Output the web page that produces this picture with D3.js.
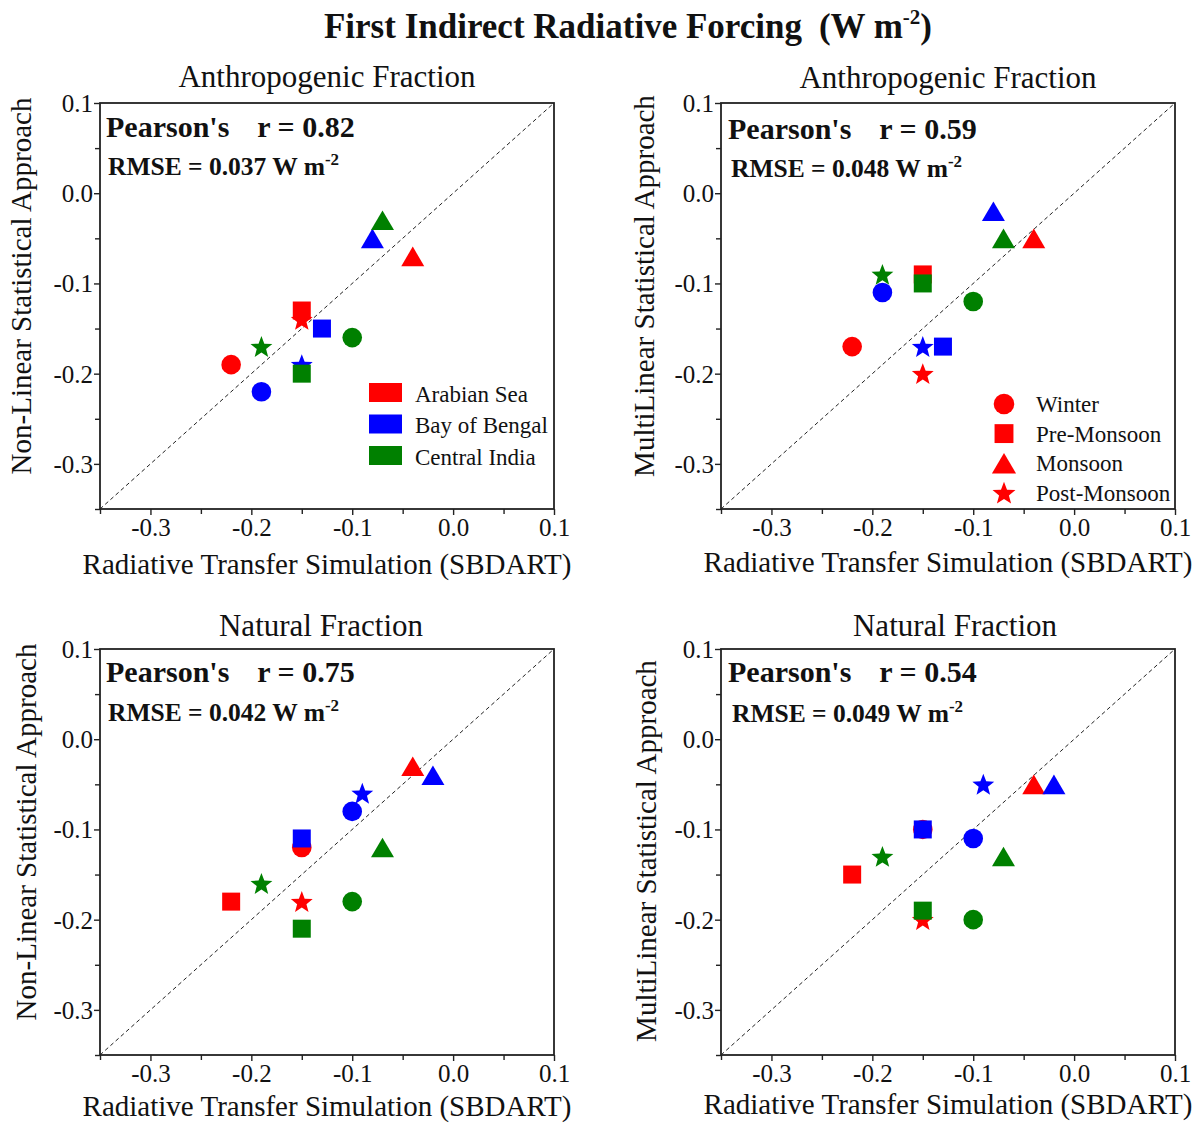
<!DOCTYPE html>
<html>
<head>
<meta charset="utf-8">
<script src="https://cdn.jsdelivr.net/npm/d3@7"></script>
<style>
  html, body { margin: 0; padding: 0; background: #fff; }
  svg { display: block; }
  text { font-family: "Liberation Serif", "Times New Roman", serif; fill: #111; }
</style>
</head>
<body>
<svg id="chart" width="1199" height="1124"></svg>
<script>
// Regions (colour) and seasons (marker shape)
const regions = ["Arabian Sea", "Bay of Bengal", "Central India"];
const regionColors = ["#ff0000", "#0000ff", "#008000"];
const seasons = ["Winter", "Pre-Monsoon", "Monsoon", "Post-Monsoon"];
const seasonShapes = ["circle", "square", "triangle", "star"];

// Axis ticks (W m-2)
const majorTicks = [-0.3, -0.2, -0.1, 0.0, 0.1];
const minorTicks = [-0.35, -0.25, -0.15, -0.05, 0.05];
const tickLabels = ["-0.3", "-0.2", "-0.1", "0.0", "0.1"];

// Forcing values: rows = regions, columns = seasons
const anthroSbdart = [
  [-0.22, -0.15, -0.04, -0.15],
  [-0.19, -0.13, -0.08, -0.15],
  [-0.10, -0.15, -0.07, -0.19]
];
const anthroNonLinear = [
  [-0.19, -0.13, -0.07, -0.14],
  [-0.22, -0.15, -0.05, -0.19],
  [-0.16, -0.20, -0.03, -0.17]
];
const anthroMultiLinear = [
  [-0.17, -0.09, -0.05, -0.20],
  [-0.11, -0.17, -0.02, -0.17],
  [-0.12, -0.10, -0.05, -0.09]
];
const naturalSbdart = [
  [-0.15, -0.22, -0.04, -0.15],
  [-0.10, -0.15, -0.02, -0.09],
  [-0.10, -0.15, -0.07, -0.19]
];
const naturalNonLinear = [
  [-0.12, -0.18, -0.03, -0.18],
  [-0.08, -0.11, -0.04, -0.06],
  [-0.18, -0.21, -0.12, -0.16]
];
const naturalMultiLinear = [
  [-0.10, -0.15, -0.05, -0.20],
  [-0.11, -0.10, -0.05, -0.05],
  [-0.20, -0.19, -0.13, -0.13]
];

// Agreement statistics per panel
const pearsonR = ["0.82", "0.59", "0.75", "0.54"];
const rmseValues = ["0.037", "0.048", "0.042", "0.049"];

const panelTitles = ["Anthropogenic Fraction", "Anthropogenic Fraction", "Natural Fraction", "Natural Fraction"];
const yTitles = ["Non-Linear Statistical Approach", "MultiLinear Statistical Approach",
                 "Non-Linear Statistical Approach", "MultiLinear Statistical Approach"];
const xTitle = "Radiative Transfer Simulation (SBDART)";

const panels = [
  { x: anthroSbdart,  y: anthroNonLinear,   left: 100, top: 103, legend: "region",
    titleDx: 0,  titleY: 87,  yLabX: 31,  yLabY: 286, xLabY: 574, pX: 106, pY: 137, rX: 108, rY: 175 },
  { x: anthroSbdart,  y: anthroMultiLinear, left: 721, top: 103, legend: "season",
    titleDx: 0,  titleY: 88,  yLabX: 654, yLabY: 286, xLabY: 572, pX: 728, pY: 139, rX: 731, rY: 177 },
  { x: naturalSbdart, y: naturalNonLinear,  left: 100, top: 649, legend: null,
    titleDx: -6, titleY: 636, yLabX: 36,  yLabY: 832, xLabY: 1116, pX: 106, pY: 682, rX: 108, rY: 721 },
  { x: naturalSbdart, y: naturalMultiLinear,left: 721, top: 649, legend: null,
    titleDx: 7,  titleY: 636, yLabX: 656, yLabY: 851, xLabY: 1114, pX: 728, pY: 682, rX: 732, rY: 722 }
];

const W = 454, H = 406;
const svg = d3.select("#chart");
const axisColor = "#222";

// Marker path generators centred on (0,0)
function markerPath(shape, s) {
  const p = d3.path();
  if (shape === "circle") {
    const r = 9.8 * s;
    p.arc(0, 0, r, 0, 2 * Math.PI);
  } else if (shape === "square") {
    const h = 9 * s;
    p.rect(-h, -h, 2 * h, 2 * h);
  } else if (shape === "triangle") {
    const w = 11.5 * s, h = 9.8 * s;
    p.moveTo(0, -h); p.lineTo(w, h); p.lineTo(-w, h); p.closePath();
  } else {
    const ro = 11.5 * s, ri = 4.9 * s;
    for (let i = 0; i < 10; i++) {
      const a = -Math.PI / 2 + i * Math.PI / 5;
      const r = i % 2 === 0 ? ro : ri;
      const px = r * Math.cos(a), py = r * Math.sin(a) + 1 * s;
      if (i === 0) p.moveTo(px, py); else p.lineTo(px, py);
    }
    p.closePath();
  }
  return p.toString();
}

// Main title
const mainTitle = svg.append("text")
  .attr("x", 628).attr("y", 38)
  .attr("text-anchor", "middle")
  .style("font-size", "35px").style("font-weight", "bold");
mainTitle.append("tspan").text("First Indirect Radiative Forcing");
mainTitle.append("tspan").attr("dx", 17).text("(W m");
mainTitle.append("tspan").attr("dy", -14).style("font-size", "21px").text("-2");
mainTitle.append("tspan").attr("dy", 14).text(")");

panels.forEach((pn, i) => {
  const xs = d3.scaleLinear().domain([-0.35, 0.1]).range([pn.left, pn.left + W]);
  const ys = d3.scaleLinear().domain([-0.35, 0.1]).range([pn.top + H, pn.top]);
  const g = svg.append("g");

  // Frame
  g.append("rect")
    .attr("x", xs(-0.35)).attr("y", ys(0.1))
    .attr("width", xs(0.1) - xs(-0.35)).attr("height", ys(-0.35) - ys(0.1))
    .attr("fill", "none").attr("stroke", axisColor).attr("stroke-width", 1.8);

  // Axes
  const xAxis = g.append("g").attr("transform", `translate(0,${ys(-0.35)})`)
    .call(d3.axisBottom(xs).tickValues(majorTicks).tickSize(6).tickPadding(1)
      .tickFormat((d, k) => tickLabels[k]));
  const xMinor = g.append("g").attr("transform", `translate(0,${ys(-0.35)})`)
    .call(d3.axisBottom(xs).tickValues(minorTicks).tickSize(5).tickFormat(""));
  const yAxis = g.append("g").attr("transform", `translate(${xs(-0.35)},0)`)
    .call(d3.axisLeft(ys).tickValues(majorTicks).tickSize(6).tickPadding(1)
      .tickFormat((d, k) => tickLabels[k]));
  const yMinor = g.append("g").attr("transform", `translate(${xs(-0.35)},0)`)
    .call(d3.axisLeft(ys).tickValues(minorTicks).tickSize(5).tickFormat(""));
  [xAxis, xMinor, yAxis, yMinor].forEach(a => {
    a.select(".domain").remove();
    a.selectAll("line").attr("stroke", axisColor).attr("stroke-width", 1.4);
    a.selectAll("text").style("font-family", "'Liberation Serif', serif")
      .style("font-size", "25px").attr("fill", "#111");
  });
  xAxis.selectAll("text").attr("dy", "0.78em");
  yAxis.selectAll("text").attr("dy", "0.34em");

  // 1:1 reference line
  g.append("line")
    .attr("x1", xs(-0.35)).attr("y1", ys(-0.35))
    .attr("x2", xs(0.1)).attr("y2", ys(0.1))
    .attr("stroke", "#222").attr("stroke-width", 1).attr("stroke-dasharray", "4,3");

  // Panel title
  g.append("text")
    .attr("x", (xs(-0.35) + xs(0.1)) / 2 + pn.titleDx).attr("y", pn.titleY)
    .attr("text-anchor", "middle").style("font-size", "31px")
    .text(panelTitles[i]);

  // Axis titles
  g.append("text")
    .attr("x", (xs(-0.35) + xs(0.1)) / 2).attr("y", pn.xLabY)
    .attr("text-anchor", "middle").style("font-size", "29px")
    .text(xTitle);
  g.append("text")
    .attr("transform", `translate(${pn.yLabX},${pn.yLabY}) rotate(-90)`)
    .attr("text-anchor", "middle").style("font-size", "29px")
    .text(yTitles[i]);

  // Statistics
  const pt = g.append("text").attr("x", pn.pX).attr("y", pn.pY)
    .style("font-size", "30px").style("font-weight", "bold");
  pt.append("tspan").text("Pearson's");
  pt.append("tspan").attr("dx", 28).text("r = " + pearsonR[i]);

  const rt = g.append("text").attr("x", pn.rX).attr("y", pn.rY)
    .style("font-size", "25.5px").style("font-weight", "bold");
  rt.append("tspan").text("RMSE = " + rmseValues[i] + " W m");
  rt.append("tspan").attr("dy", -10).style("font-size", "17px").text("-2");

  // Points: region by region, season by season
  const pts = [];
  regions.forEach((r, ri) => seasons.forEach((s, si) => {
    pts.push({ region: ri, season: si, xv: pn.x[ri][si], yv: pn.y[ri][si] });
  }));
  g.selectAll("path.pt").data(pts).join("path")
    .attr("class", "pt")
    .attr("transform", d => `translate(${xs(d.xv)},${ys(d.yv)})`)
    .attr("d", d => markerPath(seasonShapes[d.season], 1))
    .attr("fill", d => regionColors[d.region]);

  // Legends
  if (pn.legend === "region") {
    const lg = g.append("g");
    regions.forEach((r, ri) => {
      const yTop = 383 + ri * 31.5;
      lg.append("rect").attr("x", 369).attr("y", yTop).attr("width", 33).attr("height", 19)
        .attr("fill", regionColors[ri]);
      lg.append("text").attr("x", 415).attr("y", yTop + 18.5)
        .style("font-size", "23px").text(r);
    });
  } else if (pn.legend === "season") {
    const lg = g.append("g");
    seasons.forEach((s, si) => {
      const cy = 404 + si * 29.6;
      lg.append("path").attr("transform", `translate(1004,${cy})`)
        .attr("d", markerPath(seasonShapes[si], 1.05)).attr("fill", regionColors[0]);
      lg.append("text").attr("x", 1036).attr("y", cy + 8)
        .style("font-size", "23px").text(s);
    });
  }
});
</script>
</body>
</html>
